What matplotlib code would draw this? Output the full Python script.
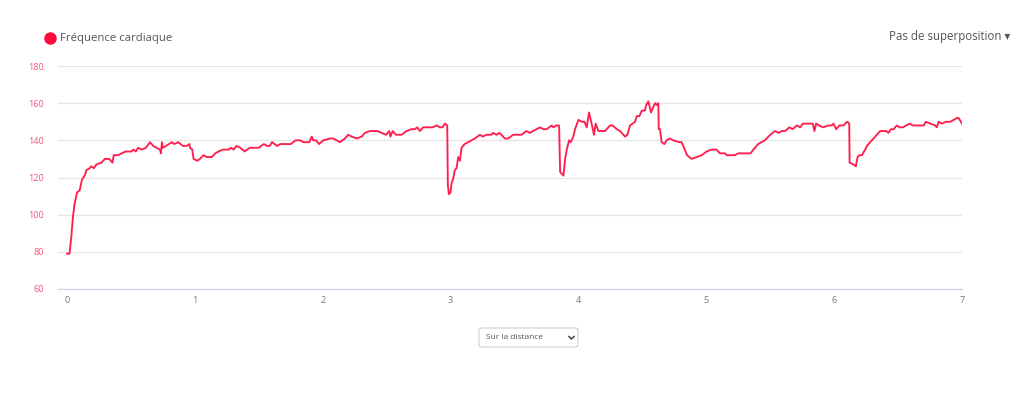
import matplotlib
matplotlib.use("Agg")
import matplotlib.pyplot as plt
from matplotlib.patches import FancyBboxPatch
from matplotlib.lines import Line2D

plt.rcParams['font.family'] = ['Open Sans', 'DejaVu Sans']

# Distance (km) and heart rate (bpm)
distance = [0.0, 0.02, 0.034, 0.047, 0.06, 0.079, 0.099, 0.118, 0.139, 0.152, 0.178, 0.19, 0.21, 0.23, 0.27,
            0.296, 0.33, 0.356, 0.366, 0.40, 0.427, 0.46, 0.48, 0.505, 0.52, 0.539, 0.557, 0.584, 0.618, 0.649,
            0.675, 0.70, 0.728, 0.735, 0.743, 0.748, 0.775, 0.82, 0.838, 0.87, 0.906, 0.937, 0.958, 0.962, 0.98,
            0.99, 1.02, 1.04, 1.068, 1.094, 1.133, 1.16, 1.186, 1.22, 1.264, 1.283, 1.304, 1.325, 1.356, 1.39,
            1.43, 1.50, 1.54, 1.565, 1.586, 1.604, 1.644, 1.67, 1.75, 1.788, 1.823, 1.849, 1.896, 1.914, 1.927,
            1.948, 1.971, 2.005, 2.057, 2.083, 2.135, 2.174, 2.20, 2.227, 2.266, 2.305, 2.33, 2.37, 2.396, 2.427,
            2.46, 2.495, 2.52, 2.53, 2.547, 2.573, 2.617, 2.656, 2.695, 2.72, 2.74, 2.76, 2.786, 2.81, 2.86,
            2.89, 2.917, 2.937, 2.956, 2.974, 2.979, 2.987, 3.0, 3.008, 3.02, 3.034, 3.047, 3.06, 3.073, 3.086,
            3.11, 3.138, 3.164, 3.19, 3.23, 3.25, 3.28, 3.32, 3.333, 3.36, 3.38, 3.398, 3.424, 3.45, 3.49,
            3.555, 3.594, 3.62, 3.646, 3.698, 3.727, 3.753, 3.79, 3.805, 3.825, 3.849, 3.857, 3.87, 3.883,
            3.896, 3.909, 3.927, 3.94, 3.96, 3.974, 4.0, 4.026, 4.047, 4.065, 4.083, 4.10, 4.122, 4.135, 4.156,
            4.208, 4.247, 4.268, 4.30, 4.326, 4.365, 4.383, 4.404, 4.443, 4.456, 4.477, 4.495, 4.52, 4.53,
            4.547, 4.568, 4.586, 4.60, 4.612, 4.625, 4.628, 4.638, 4.651, 4.672, 4.69, 4.716, 4.742, 4.789,
            4.807, 4.826, 4.85, 4.885, 4.924, 4.964, 5.003, 5.04, 5.08, 5.107, 5.146, 5.16, 5.224, 5.25, 5.346,
            5.38, 5.406, 5.432, 5.458, 5.50, 5.538, 5.564, 5.59, 5.616, 5.65, 5.676, 5.708, 5.734, 5.755,
            5.833, 5.846, 5.859, 5.885, 5.911, 5.956, 5.98, 5.995, 6.016, 6.04, 6.073, 6.086, 6.104, 6.118,
            6.121, 6.151, 6.17, 6.183, 6.198, 6.217, 6.243, 6.256, 6.282, 6.308, 6.334, 6.36, 6.407, 6.425,
            6.444, 6.465, 6.49, 6.512, 6.538, 6.59, 6.616, 6.70, 6.718, 6.752, 6.79, 6.804, 6.817, 6.843,
            6.875, 6.909, 6.935, 6.96, 6.974, 6.992, 7.0]
heart_rate = [79, 79, 88, 99, 106, 112, 113, 119, 121, 124, 125, 126, 125, 127, 128,
              130, 130, 128, 132, 132, 133, 134, 134, 134, 135, 134, 136, 135, 136, 139,
              137, 136, 135, 133, 139, 136, 137, 139, 138, 139, 137, 137, 138, 136, 135,
              130, 129, 130, 132, 131, 131, 133, 134, 135, 135, 136, 135, 137, 136, 134,
              136, 136, 138, 137, 137, 139, 137, 138, 138, 140, 140, 139, 139, 142, 140,
              140, 138, 140, 141, 141, 139, 141, 143, 142, 141, 142, 144, 145, 145, 145,
              144, 143, 145, 142, 145, 143, 143, 145, 146, 146, 147, 145, 147, 147, 147,
              148, 147, 147, 149, 148, 116, 111, 112, 117, 119, 124, 125, 131, 129, 136,
              138, 139, 140, 141, 143, 142, 143, 143, 144, 143, 144, 143, 141, 141, 143,
              143, 145, 144, 145, 147, 146, 146, 148, 147, 148, 148, 123, 122, 121,
              130, 135, 140, 139, 142, 146, 151, 150, 150, 147, 155, 150, 143, 149, 145,
              145, 148, 148, 146, 145, 142, 143, 148, 150, 153, 153, 156, 156, 159,
              161, 155, 158, 160, 159, 160, 146, 146, 139, 138, 140, 141, 140, 139,
              139, 136, 132, 130, 131, 132, 134, 135, 135, 133, 133, 132, 132, 133, 133,
              136, 138, 139, 140, 143, 145, 144, 145, 145, 147, 146, 148, 147, 149,
              149, 145, 149, 148, 147, 148, 148, 149, 146, 148, 148, 149, 150, 149,
              128, 127, 126, 131, 132, 132, 135, 137, 139, 141, 143, 145, 145, 144,
              146, 146, 148, 147, 147, 149, 148, 148, 150, 149, 148, 147, 150, 149,
              150, 150, 151, 152, 152, 150, 149]

y_ticks = [60, 80, 100, 120, 140, 160, 180]
x_ticks = [0, 1, 2, 3, 4, 5, 6, 7]

W, H = 1023, 394
fig = plt.figure(figsize=(W / 100, H / 100), dpi=100)
ax_left, ax_right, ax_top, ax_bottom = 58, 962, 66, 289
ax = fig.add_axes([ax_left / W, 1 - ax_bottom / H, (ax_right - ax_left) / W, (ax_bottom - ax_top) / H])

ax.plot(distance, heart_rate, color='#ff1f4f', linewidth=1.35, solid_joinstyle='round', zorder=3)
ax.set_xlim(-0.07, 7)
ax.set_ylim(60, 180)
ax.set_yticks(y_ticks)
ax.set_xticks(x_ticks)
ax.set_xticklabels([str(v) for v in x_ticks])
ax.set_yticklabels([str(v) for v in y_ticks])
ax.grid(axis='y', color='#e6e6e6', linewidth=0.9, zorder=0)
for s in ['top', 'right', 'left']:
    ax.spines[s].set_visible(False)
ax.spines['bottom'].set_color('#ccd6eb')
ax.spines['bottom'].set_linewidth(0.9)
ax.tick_params(axis='y', length=0, pad=10, labelsize=6.6, labelcolor='#f2557a')
ax.tick_params(axis='x', length=0, pad=5, labelsize=6.6, labelcolor='#777777')

# Legend marker (drawn in pixel coords so it stays round)
fig.add_artist(Line2D([50 / W], [1 - 38 / H], marker='o', markersize=8, color='#ff0a3c',
                      transform=fig.transFigure, linestyle='none'))
fig.text(60 / W, 1 - 38 / H, 'Fréquence cardiaque', fontsize=8.2, color='#555555',
         va='center', ha='left')

# Top-right dropdown
fig.text(1010 / W, 1 - 36.5 / H, 'Pas de superposition ▾', fontsize=8.3, color='#555555',
         va='center', ha='right')

# Bottom select box
box = FancyBboxPatch((479 / W, 1 - 347 / H), 99 / W, 19 / H,
                     boxstyle='round,pad=0,rounding_size=0.004', transform=fig.transFigure,
                     facecolor='white', edgecolor='#cfcfcf', linewidth=0.8)
fig.patches.append(box)
fig.text(486 / W, 1 - 337.5 / H, 'Sur la distance', fontsize=6, color='#555555', va='center', ha='left')
fig.add_artist(Line2D([569 / W, 571.5 / W, 574 / W], [1 - 336.5 / H, 1 - 339 / H, 1 - 336.5 / H],
                      color='#444444', linewidth=1.1, transform=fig.transFigure))

fig.savefig('out.png', dpi=100)
